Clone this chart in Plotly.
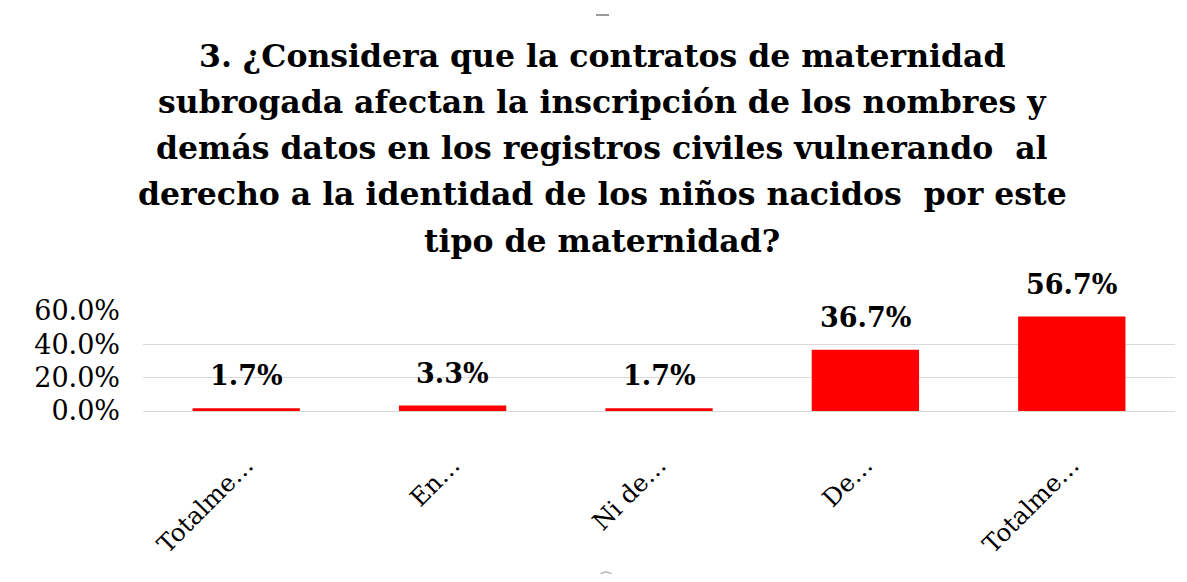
import plotly.graph_objects as go

categories = ["Totalmente en desacuerdo", "En desacuerdo", "Ni de acuerdo ni en desacuerdo", "De acuerdo", "Totalmente de acuerdo"]
tick_labels = ["Totalme…", "En…", "Ni de…", "De…", "Totalme…"]
values = [1.7, 3.3, 1.7, 36.7, 56.7]
label_texts = ["1.7%", "3.3%", "1.7%", "36.7%", "56.7%"]
y_ticks = [0, 20, 40, 60]
y_tick_labels = ["0.0%", "20.0%", "40.0%", "60.0%"]
title_lines = [
    "3. ¿Considera que la contratos de maternidad",
    "subrogada afectan la inscripción de los nombres y",
    "demás datos en los registros civiles vulnerando  al",
    "derecho a la identidad de los niños nacidos  por este",
    "tipo de maternidad?",
]

SERIF = "DejaVu Serif"
OFF = 8  # page body margin
W, H = 1187 - 2 * OFF, 582 - 2 * OFF
L, R = 143 - OFF, 1175 - OFF
T, B = 311 - OFF, 411 - OFF


def px_x(p):
    return (p - OFF - L) / (R - L)


def px_y(p):
    return (B - (p - OFF)) / (B - T)


fig = go.Figure()
fig.add_trace(go.Bar(
    x=categories, y=values,
    marker=dict(color="#ff0000", line=dict(width=0)),
    hoverinfo="skip",
))

for c, v, t in zip(categories, values, label_texts):
    fig.add_annotation(x=c, y=v, text="<b>%s</b>" % t, showarrow=False,
                       yanchor="bottom", yshift=15,
                       font=dict(family=SERIF, size=27, color="black"))

line_centers = [55, 101, 147, 193, 240]
for txt, yc in zip(title_lines, line_centers):
    fig.add_annotation(x=px_x(602), xref="paper", xanchor="center",
                       y=px_y(yc), yref="paper", yanchor="middle",
                       text="<b>%s</b>" % txt.replace("  ", "&nbsp; "), showarrow=False,
                       font=dict(family=SERIF, size=31.5, color="black"))

# small grey handle mark at top
fig.add_shape(type="line", xref="paper", yref="paper",
              x0=px_x(596), x1=px_x(609), y0=px_y(15), y1=px_y(15),
              line=dict(color="#9a9a9a", width=2))
fig.add_shape(type="circle", xref="paper", yref="paper",
              x0=px_x(598), x1=px_x(614), y0=px_y(572), y1=px_y(588),
              line=dict(color="#b0b0b0", width=1.5))

fig.update_layout(
    width=W, height=H,
    paper_bgcolor="white", plot_bgcolor="white",
    margin=dict(l=L, r=W - R, t=T, b=H - B, autoexpand=False),
    showlegend=False,
    bargap=0.48,
)
fig.update_xaxes(
    tickmode="array", tickvals=categories, ticktext=tick_labels,
    tickangle=-45, tickfont=dict(family=SERIF, size=24.5, color="black"),
    ticklabelstandoff=34,
    showline=False, ticks="", showgrid=False, automargin=False,
)
fig.update_yaxes(
    range=[0, 60], tickvals=y_ticks, ticktext=y_tick_labels,
    tickfont=dict(family=SERIF, size=27, color="black"),
    ticklabelstandoff=22,
    showgrid=True, gridcolor="#d9d9d9", gridwidth=1,
    zeroline=True, zerolinecolor="#d9d9d9", zerolinewidth=1,
    showline=False, ticks="", ticklen=0, automargin=False,
)

fig.write_html("out.html")
